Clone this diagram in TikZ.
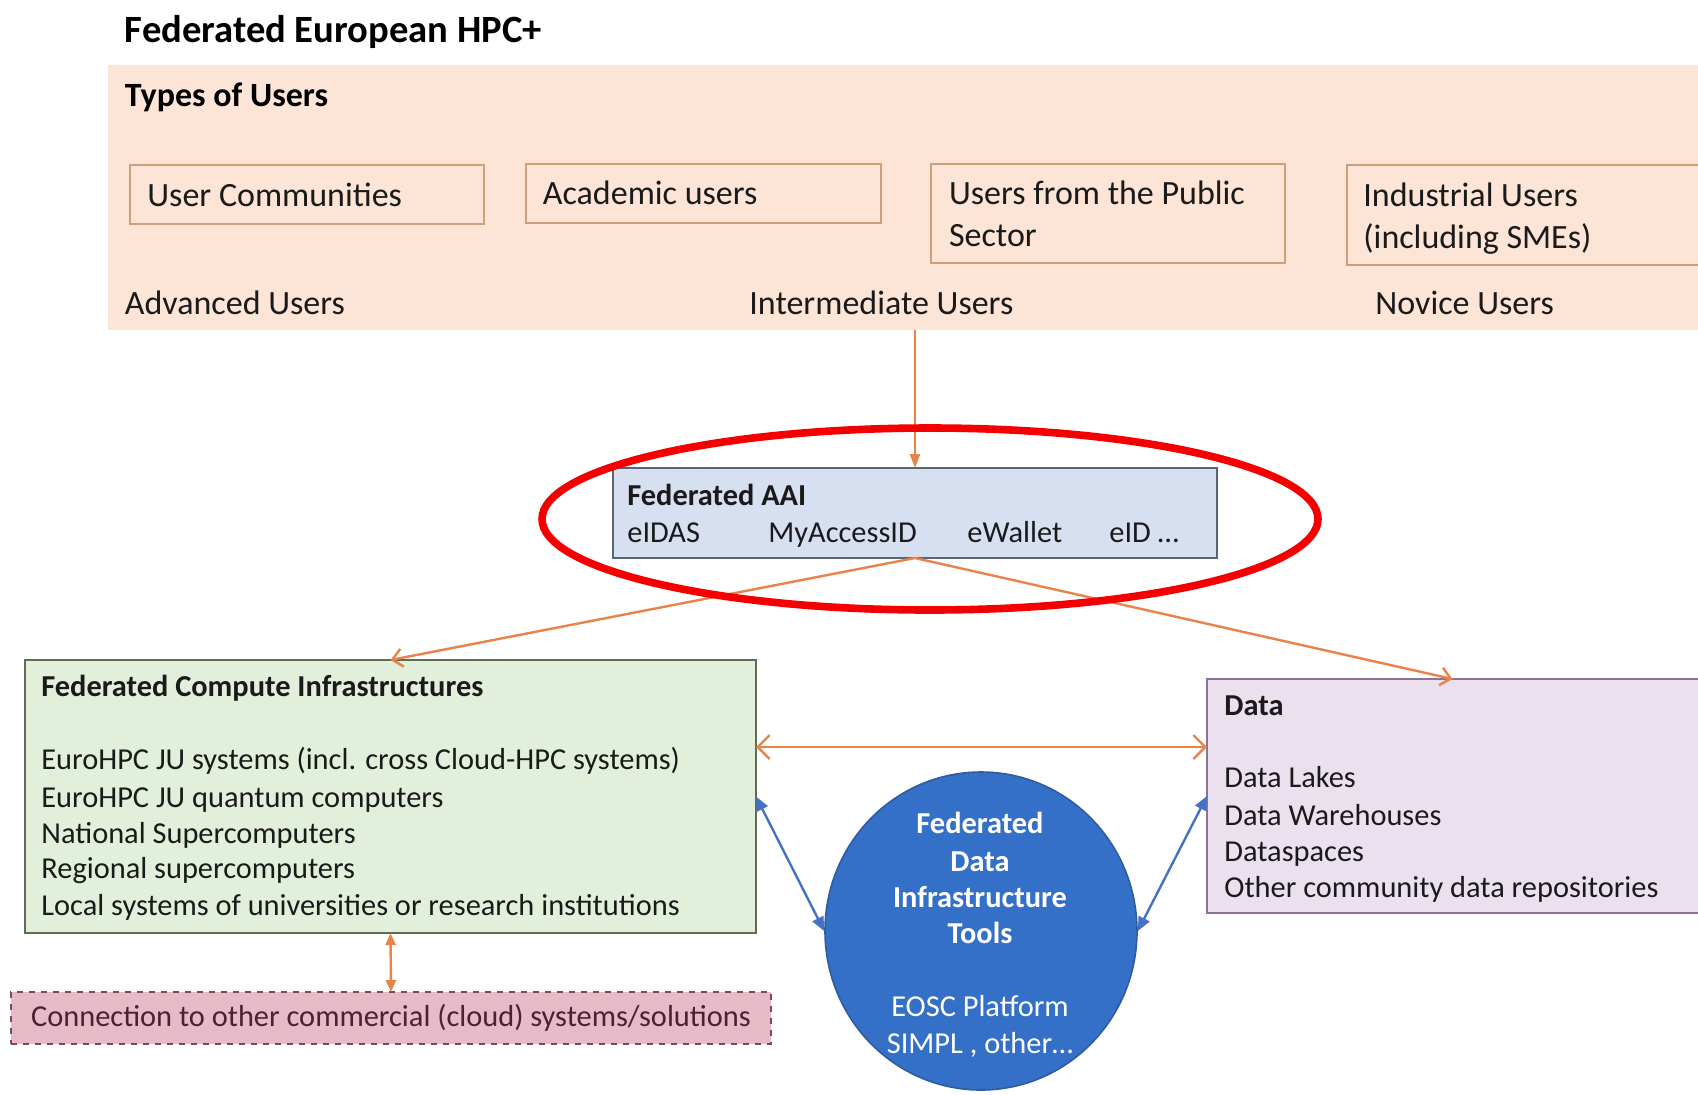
\documentclass[tikz,border=0pt]{standalone}
\usepackage{fontspec}
\setmainfont{Carlito}
\usetikzlibrary{arrows.meta,shapes.geometric}
\definecolor{peach}{HTML}{FCE4D6}
\definecolor{boxbrown}{HTML}{CDA07C}
\definecolor{orangeline}{HTML}{E8834A}
\definecolor{aaifill}{HTML}{D7E0F1}
\definecolor{aaiborder}{HTML}{5A6478}
\definecolor{greenfill}{HTML}{E2EFDA}
\definecolor{greenborder}{HTML}{5E6E55}
\definecolor{datafill}{HTML}{EAE0EE}
\definecolor{databorder}{HTML}{8B7396}
\definecolor{circfill}{HTML}{3570C8}
\definecolor{circborder}{HTML}{2E5C9E}
\definecolor{bluearrow}{HTML}{4472C4}
\definecolor{pinkfill}{HTML}{E6BAC6}
\definecolor{pinkborder}{HTML}{7A4A5A}
\definecolor{conntext}{HTML}{4A2232}
\definecolor{txtcol}{HTML}{1A1A1A}
\definecolor{ringred}{HTML}{F40000}
\newcommand\fsbody{\fontsize{15.2pt}{18pt}\selectfont}
\newcommand\fsuser{\fontsize{17pt}{20pt}\selectfont}
\newcommand\fstitle{\fontsize{19.3pt}{23pt}\selectfont\bfseries}
\tikzset{
  boxnode/.style={anchor=north west, inner sep=0pt, outer sep=0pt},
  ubox/.style={boxnode, draw=boxbrown, line width=1pt, fill=peach},
  txt/.style={anchor=west, inner sep=0pt, text height=0.8em, text depth=0.2em, text=txtcol, yshift=-2.6pt},
  btxt/.style={txt, font=\fsbody},
  bhead/.style={txt, font=\fsbody\bfseries},
  utxt/.style={txt, font=\fsuser},
  ctxt/.style={anchor=center, inner sep=0pt, text height=0.8em, text depth=0.2em, text=white, font=\fsbody, yshift=-2.2pt},
  oarrow/.style={draw=orangeline, line width=1.2pt},
  barrow/.style={draw=bluearrow, line width=1.2pt, {Triangle[length=7pt,width=6pt]}-{Triangle[length=7pt,width=6pt]}},
}
\begin{document}
\begin{tikzpicture}[x=0.5pt,y=-0.5pt]
\useasboundingbox[fill=white] (0,0) rectangle (1698,1094);

% title
\node[txt, font=\fstitle, text=black, yshift=-1.2pt] (title) at (124.5,29) {Federated European HPC+};

% users area
\node[boxnode, fill=peach, minimum width=795pt, minimum height=132.5pt] (users) at (108,65) {};
\node[txt, font=\fsuser\bfseries, text=black] (types) at (124.5,95) {Types of Users};

\node[ubox, minimum width=177pt, minimum height=29.5pt] (uc) at (130,165) {};
\node[utxt] (uct) at (147,195) {User Communities};
\node[ubox, minimum width=177.5pt, minimum height=29.5pt] (ac) at (526,164) {};
\node[utxt] (act) at (542.5,193) {Academic users};
\node[ubox, minimum width=177pt, minimum height=49.5pt] (pub) at (931,164) {};
\node[utxt] (pubt1) at (948.6,193) {Users from the Public};
\node[utxt] (pubt2) at (948.6,235) {Sector};
\node[boxnode, minimum width=175.5pt, minimum height=50pt] (ind) at (1347,165) {};
\draw[boxbrown, line width=1pt] (ind.north east) -- (ind.north west) -- (ind.south west) -- (ind.south east);
\node[utxt] (indt1) at (1363,195) {Industrial Users};
\node[utxt] (indt2) at (1363,237) {(including SMEs)};

\node[utxt] (adv) at (124.5,303) {Advanced Users};
\node[utxt] (inter) at (749,303) {Intermediate Users};
\node[utxt] (nov) at (1375,303) {Novice Users};

% AAI
\node[boxnode, draw=aaiborder, line width=1pt, fill=aaifill, minimum width=302pt, minimum height=45pt] (aai) at (613,468) {};
\node[bhead] (aaih) at (627,494) {Federated AAI};
\node[btxt] (eidas) at (627,531) {eIDAS};
\node[btxt] (myacc) at (768,531) {MyAccessID};
\node[btxt] (ewal) at (967,531) {eWallet};
\node[btxt] (eid) at (1109,531) {eID \ldots};

% compute
\node[boxnode, draw=greenborder, line width=1pt, fill=greenfill, minimum width=365.5pt, minimum height=136.5pt] (comp) at (25,660) {};
\node[bhead] (comph) at (41,685) {Federated Compute Infrastructures};
\node[btxt] (c1) at (41,758) {EuroHPC JU systems (incl. cross Cloud-HPC systems)};
\node[btxt] (c2) at (41,796) {EuroHPC JU quantum computers};
\node[btxt] (c3) at (41,832) {National Supercomputers};
\node[btxt] (c4) at (41,867) {Regional supercomputers};
\node[btxt] (c5) at (41,904) {Local systems of universities or research institutions};

% data
\node[boxnode, fill=datafill, minimum width=245.5pt, minimum height=117pt] (data) at (1207,679) {};
\draw[databorder, line width=1pt] (data.north east) -- (data.north west) -- (data.south west) -- (data.south east);
\node[bhead] (datah) at (1224,704) {Data};
\node[btxt] (d1) at (1224,776) {Data Lakes};
\node[btxt] (d2) at (1224,814) {Data Warehouses};
\node[btxt] (d3) at (1224,850) {Dataspaces};
\node[btxt] (d4) at (1224,886) {Other community data repositories};

% circle
\node[ellipse, draw=circborder, line width=0.8pt, fill=circfill, minimum width=156pt, minimum height=159pt, inner sep=0pt] (fdi) at (981,931) {};
\node[ctxt, font=\fsbody\bfseries] (f1) at (980,823) {Federated};
\node[ctxt, font=\fsbody\bfseries] (f2) at (980,861) {Data};
\node[ctxt, font=\fsbody\bfseries] (f3) at (980,897) {Infrastructure};
\node[ctxt, font=\fsbody\bfseries] (f4) at (980,933) {Tools};
\node[ctxt] (f5) at (980,1006) {EOSC Platform};
\node[ctxt] (f6) at (980,1043) {SIMPL , other\ldots};

% connection
\node[boxnode, draw=pinkborder, dashed, line width=0.9pt, fill=pinkfill, minimum width=380pt, minimum height=26pt] (conn) at (11,992) {};
\node[anchor=center, inner sep=0pt, text height=0.8em, text depth=0.2em, text=conntext, font=\fsbody, yshift=-2.2pt] (connt) at (391,1016) {Connection to other commercial (cloud) systems/solutions};

% connectors
\coordinate (hline) at (0,747);
\draw[oarrow, -{Triangle[length=7pt,width=5pt]}] (aai.north |- users.south) -- (aai.north);
\draw[oarrow, -{Straight Barb[length=5pt,width=9pt]}] (aai.south) -- (comp.north);
\draw[oarrow, -{Straight Barb[length=5pt,width=9pt]}] (aai.south) -- (data.north);
\draw[oarrow, {Straight Barb[length=6pt,width=12pt]}-{Straight Barb[length=6pt,width=12pt]}] (comp.east |- hline) -- (data.west |- hline);
\draw[oarrow, {Triangle[length=6pt,width=5pt]}-{Triangle[length=6pt,width=5pt]}] (comp.south) -- (conn.north);
\draw[barrow] (comp.east) -- (fdi.west);
\draw[barrow] (fdi.east) -- (data.west);

% highlight ring
\node[ellipse, draw=ringred, line width=3.8pt, minimum width=388pt, minimum height=91pt, inner sep=0pt] (ring) at (930,519) {};
\end{tikzpicture}
\end{document}
